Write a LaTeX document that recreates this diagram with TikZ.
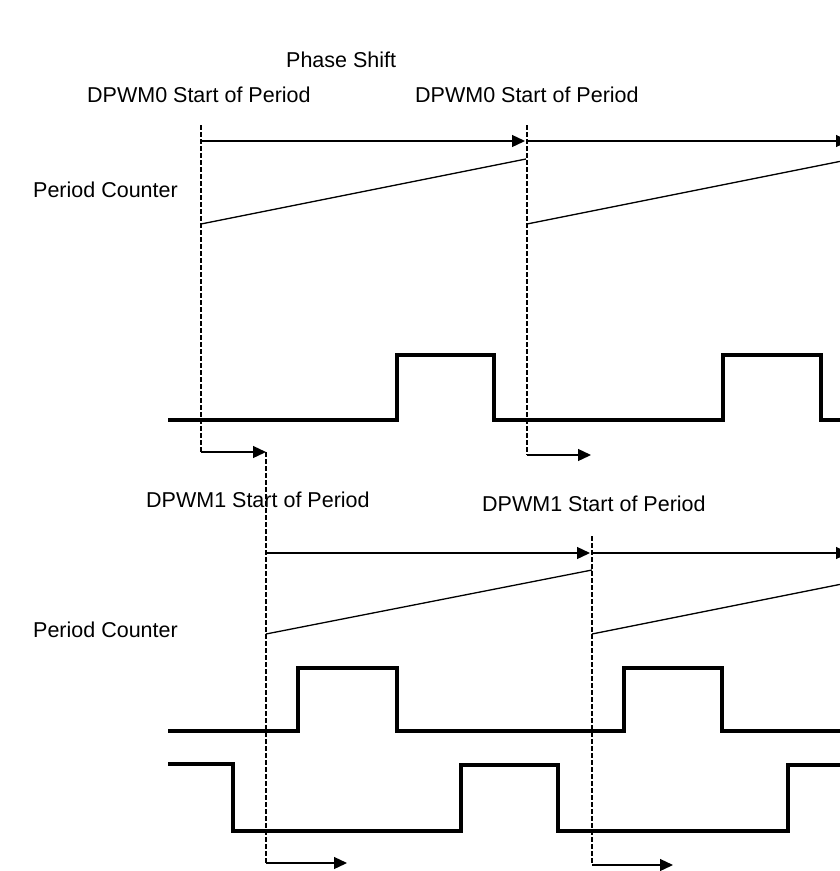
\documentclass[tikz,border=0pt]{standalone}
\usepackage{fontspec}
\setmainfont{Liberation Sans}
\usetikzlibrary{arrows.meta}
\tikzset{
  lbl/.style={anchor=base west,inner sep=0pt,font=\fontsize{21.5}{26}\selectfont},
  thin/.style={line width=1.3pt},
  arr/.style={line width=1.3pt,-{Triangle[length=13pt,width=12pt]}},
  dsh/.style={line width=2.2pt,dash pattern=on 4.5pt off 2.5pt},
  wave/.style={line width=4pt,line join=miter}
}
\begin{document}
\begin{tikzpicture}[x=1pt,y=-1pt]
\useasboundingbox (0,0) rectangle (840,871);
% labels
\node[lbl] (ps) at (286,67) {Phase Shift};
\node[lbl] (s0a) at (87,102) {DPWM0 Start of Period};
\node[lbl] (s0b) at (415,102) {DPWM0 Start of Period};
\node[lbl] (pc0) at (33,197) {Period Counter};
\node[lbl] (s1a) at (146,507) {DPWM1 Start of Period};
\node[lbl] (s1b) at (482,511) {DPWM1 Start of Period};
\node[lbl] (pc1) at (33,637) {Period Counter};
% coordinates
\coordinate (d1t) at (201,125);
\coordinate (d1b) at (201,452);
\coordinate (d2t) at (266,452);
\coordinate (d2b) at (266,863);
\coordinate (d3t) at (527,125);
\coordinate (d3b) at (527,455);
\coordinate (d4t) at (592,536);
\coordinate (d4b) at (592,865);
% dashed start-of-period lines with phase shift arrows
\draw[dsh] (d1t) -- (d1b);
\draw[arr] (d1b) -- (d2t);
\draw[dsh] (d2t) -- (d2b);
\draw[arr] (d2b) -- (347,863);
\draw[dsh] (d3t) -- (d3b);
\draw[arr] (d3b) -- (591,455);
\draw[dsh] (d4t) -- (d4b);
\draw[arr] (d4b) -- (673,865);
% period arrows
\draw[arr] (201,141) -- (525,141);
\draw[arr] (527,141) -- (849,141);
\draw[arr] (266,553) -- (590,553);
\draw[arr] (592,553) -- (849,553);
% ramps
\draw[thin] (201,224) -- (526,159);
\draw[thin] (527,224) -- (840,161.4);
\draw[thin] (266,634) -- (592,570);
\draw[thin] (592,634) -- (840,584.4);
% waveforms
\draw[wave] (168,420) -- (397,420) -- (397,355) -- (494,355) -- (494,420)
  -- (723,420) -- (723,355) -- (821,355) -- (821,420) -- (842,420);
\draw[wave] (168,731) -- (298,731) -- (298,668) -- (397,668) -- (397,731)
  -- (624,731) -- (624,668) -- (722,668) -- (722,731) -- (842,731);
\draw[wave] (168,764) -- (233,764) -- (233,831) -- (461,831) -- (461,765)
  -- (558,765) -- (558,831) -- (788,831) -- (788,765) -- (842,765);
\end{tikzpicture}
\end{document}
